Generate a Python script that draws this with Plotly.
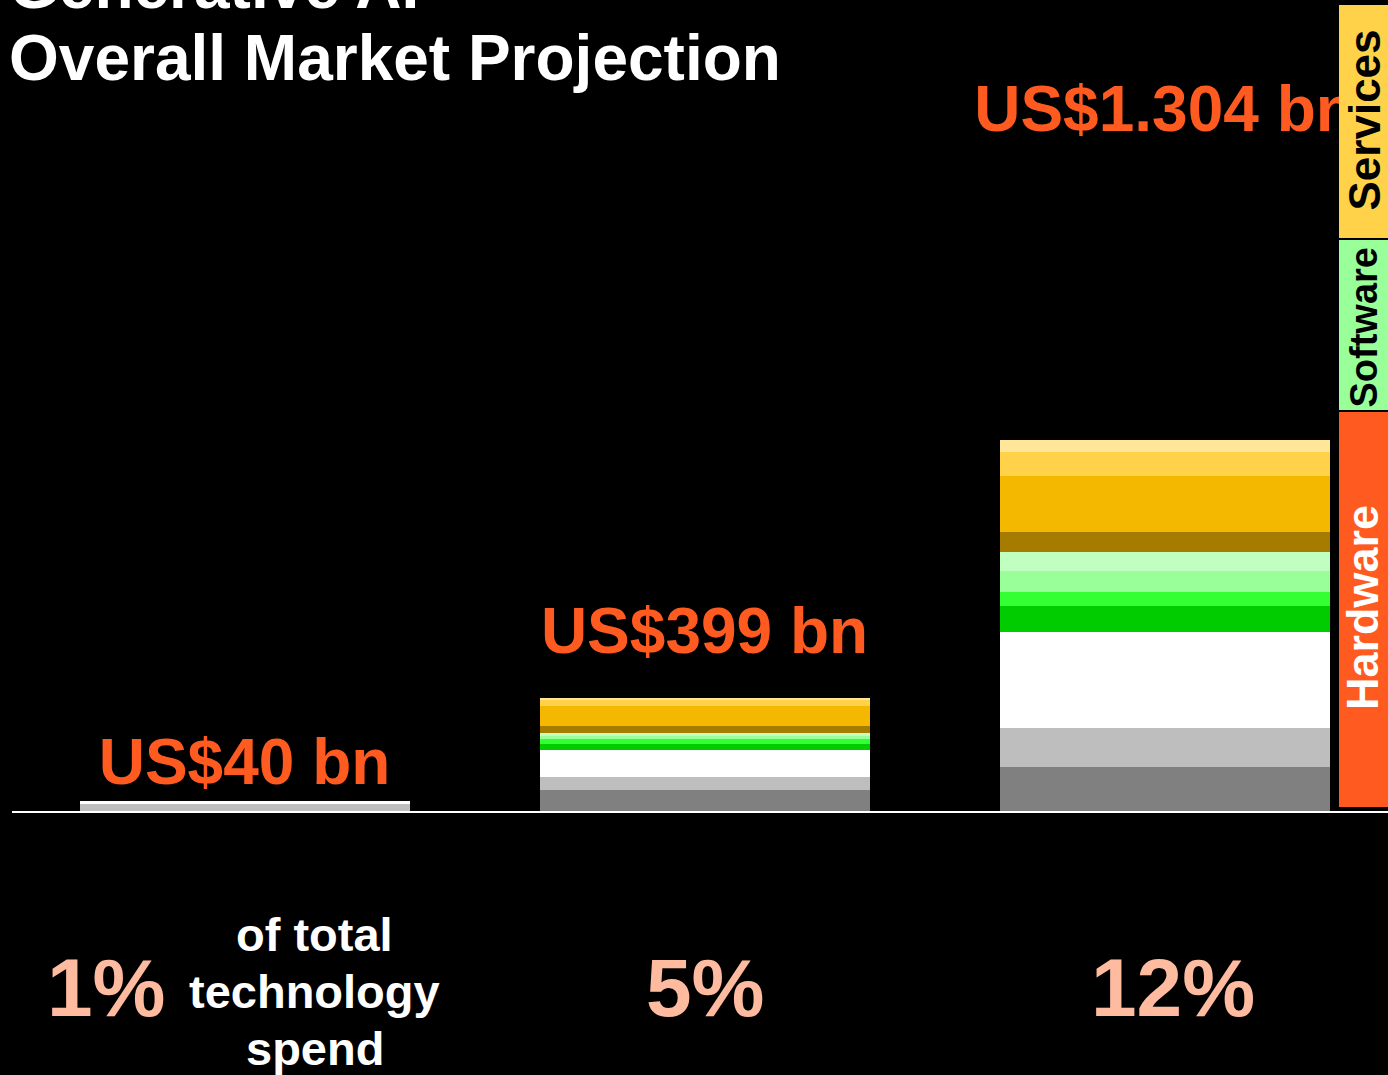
import plotly.graph_objects as go

# ---------------- data ----------------
stages = ["Stage 1", "Stage 2", "Stage 3"]

# stacked segments, bottom to top (US$ bn)
hardware_core = [0, 78, 158]
hardware_mid = [28, 46, 136]
hardware_top = [12, 93, 339]
software_a = [0, 21, 91]
software_b = [0, 18, 48]
software_c = [0, 12, 74]
software_d = [0, 10, 66]
services_a = [0, 25, 72]
services_b = [0, 68, 196]
services_c = [0, 22, 84]
services_d = [0, 6, 40]

share_of_tech_spend = ["1%", "5%", "12%"]
share_caption = ["of total", "technology", "spend"]
title_lines = ["Generative AI", "Overall Market Projection"]
block_names = ["Services", "Software", "Hardware"]

# ---------------- styling ----------------
W, H = 1388, 1075
FONT = "Liberation Sans, Arial, Helvetica, sans-serif"
ORANGE = "#FF5A1F"
SALMON = "#FFBBA0"

segments = [
    ("Hardware 1", hardware_core, "#808080"),
    ("Hardware 2", hardware_mid, "#BEBEBE"),
    ("Hardware 3", hardware_top, "#FFFFFF"),
    ("Software 1", software_a, "#00CC00"),
    ("Software 2", software_b, "#33FF33"),
    ("Software 3", software_c, "#99FF99"),
    ("Software 4", software_d, "#C0FFC0"),
    ("Services 1", services_a, "#A67C00"),
    ("Services 2", services_b, "#F5B800"),
    ("Services 3", services_c, "#FFD24A"),
    ("Services 4", services_d, "#FFE699"),
]

totals = [sum(seg[1][i] for seg in segments) for i in range(len(stages))]
total_labels = ["US$" + f"{t:,}".replace(",", ".") + " bn" for t in totals]

# geometry of the canvas (pixels)
px_per_bn = 0.285
baseline_px = 812
bar_pitch_px = 460
first_bar_px = 244.5
bar_width_px = 330

x_lo = -first_bar_px / bar_pitch_px
x_hi = x_lo + W / bar_pitch_px
y_lo = -(H - baseline_px) / px_per_bn
y_hi = baseline_px / px_per_bn


def py(px):
    """pixel row -> paper y"""
    return 1 - px / H


def px_to_bn(px):
    return (baseline_px - px) / px_per_bn


fig = go.Figure()

xs = list(range(len(stages)))
for name, vals, color in segments:
    fig.add_trace(go.Bar(
        x=xs, y=vals, name=name,
        width=bar_width_px / bar_pitch_px,
        marker=dict(color=color, line=dict(width=0)),
        hoverinfo="name+y",
    ))

# total labels (as text trace so the side column can sit over them)
label_rows_px = [768, 636.5, 115]
fig.add_trace(go.Scatter(
    x=xs, y=[px_to_bn(p) for p in label_rows_px],
    mode="text", text=total_labels, textposition="middle center",
    textfont=dict(family=FONT, size=64, color=ORANGE, weight="bold"),
    hoverinfo="skip", showlegend=False, cliponaxis=False,
))

shapes = []
# baseline
shapes.append(dict(type="line", xref="paper", yref="y", x0=12 / W, x1=1,
                   y0=0, y1=0, line=dict(color="#FFFFFF", width=2), layer="above"))

# side column: Services / Software / Hardware blocks
blocks = [
    (5, 238, "#FFD24A", "#000000", 44, 120.5, 1364),
    (240, 410, "#99FF99", "#000000", 38, 327.5, 1364),
    (412, 807, ORANGE, "#FFFFFF", 45, 607.5, 1362.5),
]
annotations = []
for name, (top, bot, fill, txt, size, mid, col) in zip(block_names, blocks):
    shapes.append(dict(type="rect", xref="paper", yref="paper",
                       x0=1339 / W, x1=1.01, y0=py(bot), y1=py(top),
                       fillcolor=fill, line=dict(width=0), layer="above"))
    annotations.append(dict(
        text=name, xref="paper", yref="paper", x=col / W, y=py(mid),
        xanchor="center", yanchor="middle", textangle=-90, showarrow=False,
        font=dict(family=FONT, size=size, color=txt, weight="bold"),
    ))

# title
title_rows_px = [-14, 58]
for line, row in zip(title_lines, title_rows_px):
    annotations.append(dict(
        text=line, xref="paper", yref="paper", x=7 / W, y=py(row),
        xanchor="left", yanchor="middle", showarrow=False,
        font=dict(family=FONT, size=64, color="#FFFFFF", weight="bold"),
    ))

# share of total technology spend
share_cols_px = [106.5, 705, 1173]
for share, col in zip(share_of_tech_spend, share_cols_px):
    annotations.append(dict(
        text=share, xref="paper", yref="paper", x=col / W, y=py(987),
        xanchor="center", yanchor="middle", showarrow=False,
        font=dict(family=FONT, size=82, color=SALMON, weight="bold"),
    ))
for i, line in enumerate(share_caption):
    annotations.append(dict(
        text=line, xref="paper", yref="paper", x=314.5 / W,
        y=py(934 + 57 * i),
        xanchor="center", yanchor="middle", showarrow=False,
        font=dict(family=FONT, size=47, color="#FFFFFF", weight="bold"),
    ))

fig.update_layout(
    width=W, height=H,
    margin=dict(l=0, r=0, t=0, b=0),
    paper_bgcolor="#000000", plot_bgcolor="#000000",
    barmode="stack", showlegend=False,
    xaxis=dict(range=[x_lo, x_hi], visible=False, fixedrange=True),
    yaxis=dict(range=[y_lo, y_hi], visible=False, fixedrange=True),
    shapes=shapes, annotations=annotations,
    font=dict(family=FONT),
)

fig.write_html("out.html", config={"displayModeBar": False})
